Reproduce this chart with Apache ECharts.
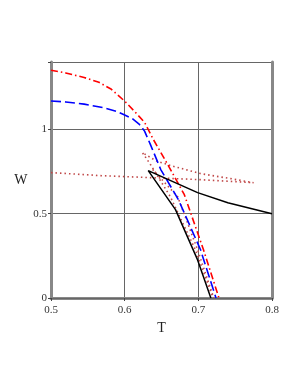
<!DOCTYPE html>
<html><head><meta charset="utf-8">
<script src="https://cdn.jsdelivr.net/npm/echarts@6/dist/echarts.min.js"></script>
<style>html,body{margin:0;padding:0;background:#fff}#c{width:300px;height:388px}</style>
</head><body><div id="c"></div>
<script>
// Data (T, W)
const redDashDot = [[0.5,1.351],[0.52,1.335],[0.545,1.308],[0.565,1.28],[0.582,1.238],[0.6,1.168],[0.613,1.109],[0.627,1.042],[0.639,0.94],[0.660,0.78],[0.681,0.613],[0.707,0.286],[0.728,0]];
const blueDash = [[0.5,1.169],[0.52,1.163],[0.545,1.15],[0.57,1.13],[0.59,1.105],[0.6,1.085],[0.61,1.065],[0.62,1.03],[0.627,0.99],[0.635,0.91],[0.649,0.762],[0.673,0.583],[0.703,0.286],[0.724,0]];
const blackSolid = [[0.8,0.5],[0.740,0.565],[0.699,0.625],[0.632,0.756],[0.669,0.524],[0.699,0.226],[0.717,0]];
const dottedA = [[0.5,0.744],[0.567,0.726],[0.635,0.714],[0.703,0.702],[0.775,0.684],[0.744,0.708],[0.703,0.738],[0.662,0.786],[0.642,0.815],[0.624,0.863],[0.635,0.792],[0.662,0.601],[0.696,0.286],[0.720,0]];
const dottedB = [[0.638,0.762],[0.672,0.601],[0.699,0.286],[0.721,0]];
const xTicks = [0.5,0.6,0.7,0.8];
const yTicks = [0,0.5,1];

const chart = echarts.init(document.getElementById('c'));
const font = '"Liberation Serif", "DejaVu Serif", serif';
const lineS = (data, color, type, w) => ({
  type:'line', data, showSymbol:false, symbol:'none', smooth:false,
  lineStyle:{color, type, width:w}, z:3, animation:false
});
chart.setOption({
  animation:false,
  grid:{left:51, right:28, top:62, bottom:90, show:false},
  xAxis:[{
    type:'value', min:0.5, max:0.8, interval:0.1,
    name:'T', nameLocation:'middle', nameGap:19,
    nameTextStyle:{fontFamily:font, fontSize:14, color:'#222'},
    axisLine:{show:true, onZero:false, lineStyle:{color:'#888', width:3}},
    axisTick:{show:true, length:3, lineStyle:{color:'#444'}},
    axisLabel:{fontFamily:font, fontSize:11, color:'#333', margin:7,
      formatter:v=>xTicks.some(t=>Math.abs(t-v)<1e-6)?v.toFixed(1):''},
    splitLine:{show:true, lineStyle:{color:'#666', width:1}}
  },{
    type:'value', position:'top', min:0.5, max:0.8, interval:0.1,
    axisLine:{show:true, lineStyle:{color:'#666', width:1}},
    axisTick:{show:false}, axisLabel:{show:false}, splitLine:{show:false}
  }],
  yAxis:[{
    type:'value', min:0, max:1.4, interval:0.5,
    name:'W', nameLocation:'middle', nameGap:23, nameRotate:0,
    nameTextStyle:{fontFamily:font, fontSize:14, color:'#222', padding:[6,0,0,0]},
    axisLine:{show:true, onZero:false, lineStyle:{color:'#888', width:3}},
    axisTick:{show:true, length:3, lineStyle:{color:'#444'}},
    axisLabel:{fontFamily:font, fontSize:11, color:'#333', margin:4,
      formatter:v=>yTicks.some(t=>Math.abs(t-v)<1e-6)?(v===0?'0':String(v)):''},
    splitLine:{show:true, lineStyle:{color:'#666', width:1}}
  },{
    type:'value', position:'right', min:0, max:1.4, interval:0.5,
    axisLine:{show:true, lineStyle:{color:'#888', width:3}},
    axisTick:{show:false}, axisLabel:{show:false}, splitLine:{show:false}
  }],
  series:[
    lineS(dottedA, '#c04848', [1.5,3], 1.6),
    lineS(dottedB, '#c04848', [1.5,3], 1.6),
    lineS(redDashDot, '#ff0000', [7,3,1.5,3], 1.6),
    lineS(blueDash, '#0000ff', [10,4], 1.6),
    lineS(blackSolid, '#000000', 'solid', 1.5)
  ]
});
</script></body></html>
